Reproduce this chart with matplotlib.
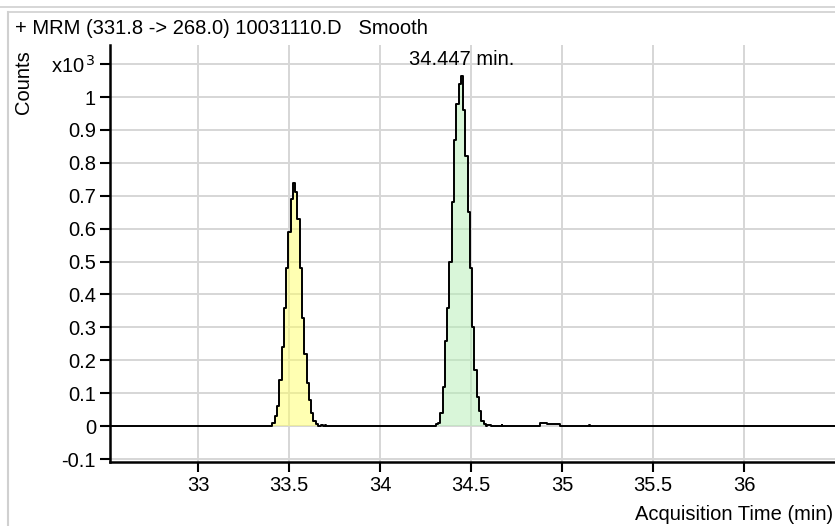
import matplotlib
matplotlib.use("Agg")
import matplotlib.pyplot as plt
from matplotlib.lines import Line2D

plt.rcParams['font.family'] = ['Liberation Sans', 'DejaVu Sans']

# chromatogram trace (min, x10^3 counts)
base_left_t = [32.516, 33.39]
base_left_v = [0.0, 0.0]

peak1_t = [33.4025, 33.415, 33.4275, 33.44, 33.4525, 33.465, 33.4775, 33.49,
           33.5025, 33.515, 33.5275, 33.54, 33.5525, 33.565, 33.5775, 33.59,
           33.6025, 33.615, 33.6275, 33.64, 33.6525, 33.665]
peak1_v = [0.0, 0.01, 0.03, 0.06, 0.14, 0.24, 0.36, 0.48,
           0.59, 0.69, 0.74, 0.71, 0.63, 0.48, 0.33, 0.22,
           0.13, 0.08, 0.04, 0.015, 0.005, 0.0]

tail1_t = [33.675, 33.68, 33.69, 33.70, 33.71, 34.30]
tail1_v = [0.0, 0.004, 0.0, 0.004, 0.0, 0.0]

peak2_t = [34.3125, 34.325, 34.3375, 34.35, 34.3625, 34.375, 34.3875, 34.40,
           34.4125, 34.425, 34.4375, 34.45, 34.4625, 34.475, 34.4875, 34.50,
           34.5125, 34.525, 34.5375, 34.55, 34.5625, 34.575]
peak2_v = [0.005, 0.01, 0.04, 0.12, 0.26, 0.36, 0.50, 0.68,
           0.87, 0.98, 1.04, 1.065, 0.96, 0.82, 0.65, 0.48,
           0.30, 0.17, 0.09, 0.045, 0.015, 0.005]

tail2_t = [34.585, 34.595, 34.605, 34.615, 34.665, 34.67, 34.675,
           34.875, 34.88, 34.91, 34.92, 34.985, 34.99,
           35.145, 35.15, 35.155, 36.5]
tail2_v = [0.0, 0.004, 0.004, 0.0, 0.0, 0.004, 0.0,
           0.0, 0.01, 0.01, 0.007, 0.007, 0.0,
           0.0, 0.004, 0.0, 0.0]

trace_t = base_left_t + peak1_t + tail1_t + peak2_t + tail2_t
trace_v = base_left_v + peak1_v + tail1_v + peak2_v + tail2_v

rt_label = "34.447 min."
rt_value = 34.447
rt_height = 1.065

x_ticks = [33, 33.5, 34, 34.5, 35, 35.5, 36]
x_ticklabels = ["33", "33.5", "34", "34.5", "35", "35.5", "36"]
y_ticks = [-0.1, 0, 0.1, 0.2, 0.3, 0.4, 0.5, 0.6, 0.7, 0.8, 0.9, 1.0, 1.1]
y_ticklabels = ["-0.1", "0", "0.1", "0.2", "0.3", "0.4", "0.5", "0.6", "0.7",
                "0.8", "0.9", "1", "x10$^{\\,3}$"]

FS = 14.5

fig = plt.figure(figsize=(8.35, 5.26), dpi=100)
ax = fig.add_axes([110 / 835, 1 - 462 / 526, 725 / 835, 417 / 526])

ax.set_xlim(32.516, 36.5)
ax.set_ylim(-0.109, 1.158)

# integrated peak areas
ax.fill_between(peak1_t, peak1_v, 0, step='mid', color='#ffff66', alpha=0.5,
                lw=0, zorder=2)
ax.fill_between(peak2_t, peak2_v, 0, step='mid', color='#b4efb4', alpha=0.5,
                lw=0, zorder=2)

ax.plot(trace_t, trace_v, color='black', lw=1.4, drawstyle='steps-mid', zorder=3)

ax.text(rt_value, rt_height + 0.05, rt_label, ha='center', va='center',
        fontsize=FS, zorder=4)

ax.set_xticks(x_ticks)
ax.set_xticklabels(x_ticklabels)
ax.set_yticks(y_ticks)
ax.set_yticklabels(y_ticklabels)
ax.tick_params(axis='both', direction='out', length=7, width=1.5,
               labelsize=FS, pad=3, color='black')
ax.grid(True, color='#d6d6d6', lw=1.4, zorder=0)
ax.set_axisbelow(True)

for s in ['top', 'right']:
    ax.spines[s].set_visible(False)
for s in ['left', 'bottom']:
    ax.spines[s].set_linewidth(1.8)

fig.text(15 / 835, 1 - 29 / 526, "+ MRM (331.8 -> 268.0) 10031110.D   Smooth",
         ha='left', va='center', fontsize=FS)
fig.text(23 / 835, 1 - 82 / 526, "Counts", rotation=90, ha='center',
         va='center', fontsize=FS)
fig.text(833 / 835, 1 - 515 / 526, "Acquisition Time (min)", ha='right',
         va='center', fontsize=FS)

# panel frame lines
fig.add_artist(Line2D([8 / 835, 8 / 835], [0, 1 - 12 / 526],
                      transform=fig.transFigure, color='#d0d0d0', lw=1.5))
fig.add_artist(Line2D([0, 1], [1 - 7 / 526, 1 - 7 / 526],
                      transform=fig.transFigure, color='#d0d0d0', lw=1.2))
fig.add_artist(Line2D([8 / 835, 1], [1 - 12 / 526, 1 - 12 / 526],
                      transform=fig.transFigure, color='#d0d0d0', lw=1.2))

fig.savefig("out.png", dpi=100)
